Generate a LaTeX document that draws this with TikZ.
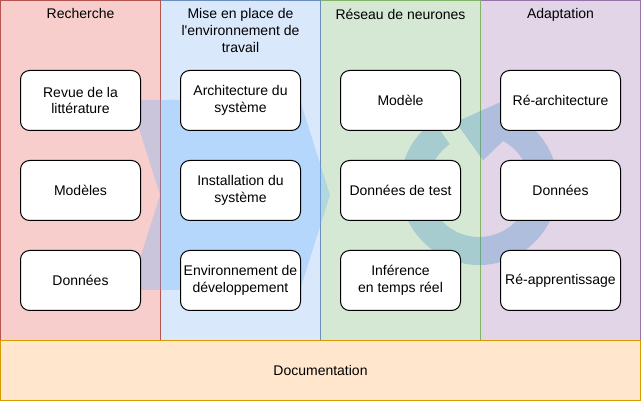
\documentclass[tikz,border=0pt]{standalone}
\usepackage{fontspec}
\setmainfont{Liberation Sans}[Ligatures=TeXOff]
\usepackage{xcolor}
\usetikzlibrary{calc}

\definecolor{rechfill}{HTML}{F8CECC}
\definecolor{rechline}{HTML}{B85450}
\definecolor{envfill}{HTML}{DAE8FC}
\definecolor{envline}{HTML}{6C8EBF}
\definecolor{resfill}{HTML}{D5E8D4}
\definecolor{resline}{HTML}{82B366}
\definecolor{adafill}{HTML}{E1D5E7}
\definecolor{adaline}{HTML}{9673A6}
\definecolor{docfill}{HTML}{FFE6CC}
\definecolor{docline}{HTML}{D79B00}
\definecolor{chevc}{HTML}{66B2FF}
\definecolor{ringc}{HTML}{3C8CC8}

\begin{document}
\begin{tikzpicture}[x=1pt,y=-1pt,
  font=\fontsize{14}{16.8}\selectfont,
  lane/.style 2 args={fill=#1,draw=#2,line width=1pt},
  box/.style={draw=black,fill=white,rounded corners=9pt,line width=1pt,
    minimum width=120pt,minimum height=60pt,align=center,inner sep=0pt},
  lanetitle/.style={anchor=north,align=center,inner sep=0pt}]
\useasboundingbox (0,0) rectangle (641,401);

% colonnes
\draw[lane={adafill}{adaline}] (480.5,0.5) rectangle (640.5,340.5);
\draw[lane={resfill}{resline}] (320.5,0.5) rectangle (480.5,340.5);
\draw[lane={envfill}{envline}] (160.5,0.5) rectangle (320.5,340.5);
\draw[lane={rechfill}{rechline}] (0.5,0.5) rectangle (160.5,340.5);

\node[lanetitle] (trech) at (80.5,8.5) {Recherche};
\node[lanetitle] (tenv) at (240.5,8.5) {Mise en place de\\l'environnement de\\travail};
\node[lanetitle] (tres) at (400.5,8.5) {Réseau de neurones};
\node[lanetitle] (tada) at (560.5,8.5) {Adaptation};

% fleche de fond
\fill[chevc,opacity=.3] (130,100) -- (300,100) -- (330,195) -- (300,290)
  -- (130,290) -- (160,195) -- cycle;

% cycle
\begin{scope}[shift={(479,186)},yscale=-1]
\fill[ringc,opacity=.3] (125:51) -- (125:79) arc[start angle=125,end angle=422,radius=79]
  -- (73:90) -- (110:68) -- (81:26) -- (62:51)
  arc[start angle=62,end angle=-235,radius=51] -- cycle;
\end{scope}

% etapes
\node[box] (revue) at (80.5,100.5) {Revue de la\\littérature};
\node[box] (modeles) at (80.5,190.5) {Modèles};
\node[box] (donnees) at (80.5,280.5) {Données};

\node[box] (archi) at (240.5,100.5) {Architecture du\\système};
\node[box] (install) at (240.5,190.5) {Installation du\\système};
\node[box] (envdev) at (240.5,280.5) {Environnement de\\développement};

\node[box] (modele) at (400.5,100.5) {Modèle};
\node[box] (test) at (400.5,190.5) {Données de test};
\node[box] (infer) at (400.5,280.5) {Inférence\\en temps réel};

\node[box] (rearchi) at (560.5,100.5) {Ré-architecture};
\node[box] (redata) at (560.5,190.5) {Données};
\node[box] (reappr) at (560.5,280.5) {Ré-apprentissage};

% documentation
\draw[lane={docfill}{docline}] (0.5,340.5) rectangle (640.5,400.5);
\node (doc) at (320.5,370.5) {Documentation};
\end{tikzpicture}
\end{document}
